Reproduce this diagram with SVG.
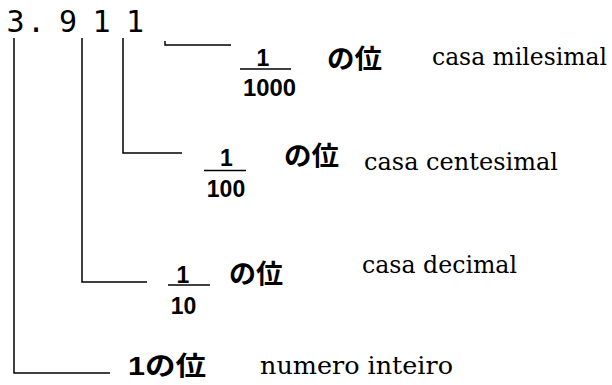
<svg xmlns="http://www.w3.org/2000/svg" width="612" height="385" viewBox="0 0 612 385">
<style>
.num{font-family:"DejaVu Sans Mono","Liberation Mono",monospace;font-size:30px;fill:#000;text-anchor:middle}
.frac{font-family:"Liberation Sans",Arial,sans-serif;font-weight:bold;font-size:23px;fill:#000;text-anchor:middle}
.jp{font-family:"Liberation Sans","Noto Sans CJK JP",sans-serif;font-weight:bold;font-size:26px;fill:#000}
.pt{font-family:"DejaVu Serif","Liberation Serif",serif;font-size:23.5px;fill:#000}
.ln{stroke:#000;stroke-width:1.5;fill:none}
</style>
<rect width="612" height="385" fill="#fff"/>
<g id="number">
<text class="num" x="15.5" y="32">3</text>
<text class="num" x="36" y="32">.</text>
<text class="num" x="68" y="32">9</text>
<text class="num" x="101.5" y="32">1</text>
<text class="num" x="135" y="32">1</text>
</g>
<g id="connectors">
<path class="ln" d="M14,38 V373 H110"/>
<path class="ln" d="M82,38 V282 H147"/>
<path class="ln" d="M123,38 V153 H182"/>
<path class="ln" d="M165,41 V45 H231"/>
</g>
<g id="milesimal">
<text class="frac" x="263" y="66">1</text>
<line class="ln" x1="240" y1="69" x2="291" y2="69"/>
<text class="frac" x="269.5" y="96" textLength="53" lengthAdjust="spacingAndGlyphs">1000</text>
<text class="jp" x="327" y="68" textLength="55" lengthAdjust="spacingAndGlyphs">の位</text>
<text class="pt" x="432" y="65" textLength="175" lengthAdjust="spacingAndGlyphs">casa milesimal</text>
</g>
<g id="centesimal">
<text class="frac" x="226.5" y="166">1</text>
<line class="ln" x1="204" y1="170.5" x2="246" y2="170.5"/>
<text class="frac" x="226" y="197">100</text>
<text class="jp" x="284" y="165" textLength="55" lengthAdjust="spacingAndGlyphs">の位</text>
<text class="pt" x="364" y="170" textLength="194" lengthAdjust="spacingAndGlyphs">casa centesimal</text>
</g>
<g id="decimal">
<text class="frac" x="183" y="283">1</text>
<line class="ln" x1="168" y1="285" x2="210" y2="285"/>
<text class="frac" x="183.5" y="314">10</text>
<text class="jp" x="229" y="283" textLength="54" lengthAdjust="spacingAndGlyphs">の位</text>
<text class="pt" x="362" y="273" textLength="155" lengthAdjust="spacingAndGlyphs">casa decimal</text>
</g>
<g id="inteiro">
<text class="jp" x="128" y="375" textLength="78" lengthAdjust="spacingAndGlyphs">1の位</text>
<text class="pt" x="260" y="374" textLength="193" lengthAdjust="spacingAndGlyphs">numero inteiro</text>
</g>
</svg>
